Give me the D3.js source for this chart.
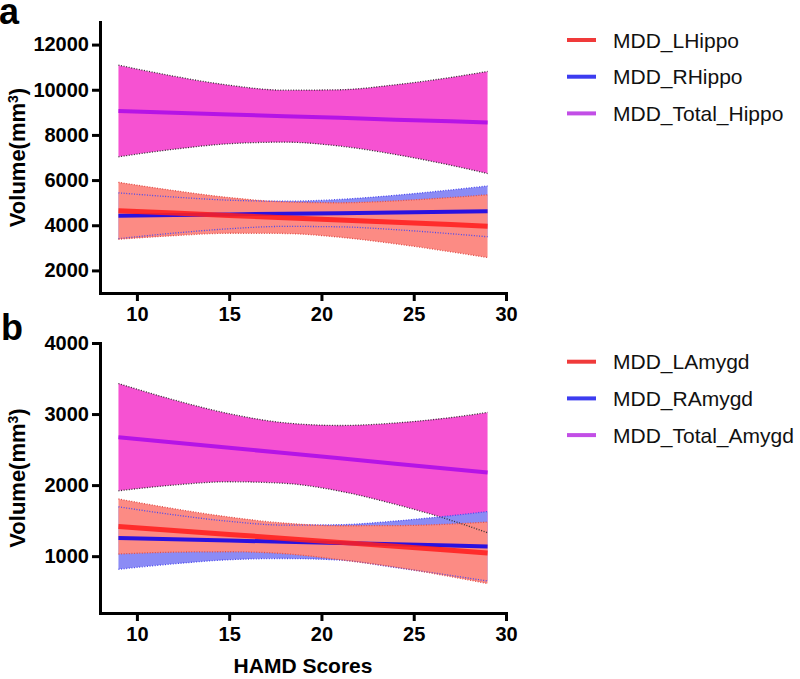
<!DOCTYPE html>
<html>
<head>
<meta charset="utf-8">
<script src="https://cdn.jsdelivr.net/npm/d3@7"></script>
<style>
    body { margin: 0; background: #fff; }
    svg { font-family: "Liberation Sans", Arial, sans-serif; }
</style>
</head>
<body>
<div id="chart"></div>
<script>
var hamd = [9, 12, 15, 18, 21, 24, 27, 29];
var xTicks = [10, 15, 20, 25, 30];

// panel a - hippocampus volumes (mm3)
var hippoNames = ["MDD_LHippo", "MDD_RHippo", "MDD_Total_Hippo"];
var lHippoFit   = [4640, 4540, 4435, 4335, 4230, 4130, 4030, 3960];
var lHippoUpper = [5900, 5535, 5225, 5035, 4995, 5080, 5230, 5350];
var lHippoLower = [3380, 3540, 3645, 3635, 3470, 3180, 2825, 2570];
var rHippoFit   = [4420, 4450, 4480, 4510, 4535, 4565, 4595, 4615];
var rHippoUpper = [5435, 5250, 5110, 5065, 5145, 5325, 5565, 5740];
var rHippoLower = [3405, 3650, 3845, 3950, 3930, 3805, 3625, 3490];
var tHippoFit   = [9060, 8980, 8905, 8830, 8755, 8675, 8600, 8550];
var tHippoUpper = [11090, 10600, 10200, 9980, 10000, 10220, 10545, 10810];
var tHippoLower = [7030, 7365, 7610, 7680, 7505, 7135, 6660, 6290];
var hippoTicks = [2000, 4000, 6000, 8000, 10000, 12000];

// panel b - amygdala volumes (mm3)
var amygdNames = ["MDD_LAmygd", "MDD_RAmygd", "MDD_Total_Amygd"];
var lAmygdFit   = [1418, 1362, 1306, 1250, 1194, 1138, 1082, 1044];
var lAmygdUpper = [1805, 1668, 1550, 1465, 1428, 1430, 1452, 1480];
var lAmygdLower = [1030, 1056, 1062, 1035, 950, 846, 712, 614];
var rAmygdFit   = [1255, 1237, 1220, 1202, 1184, 1167, 1149, 1137];
var rAmygdUpper = [1695, 1582, 1490, 1437, 1443, 1494, 1569, 1628];
var rAmygdLower = [815, 892, 950, 967, 945, 840, 729, 650];
var tAmygdFit   = [2675, 2600, 2526, 2451, 2377, 2302, 2228, 2178];
var tAmygdUpper = [3430, 3199, 3005, 2877, 2839, 2874, 2950, 3023];
var tAmygdLower = [1920, 2001, 2047, 2025, 1915, 1730, 1506, 1330];
var amygdTicks = [1000, 2000, 3000, 4000];

function init() {
    var w = 800;
    var h = 679;
    var left = 100, right = 506;

    var svg = d3.select("#chart")
        .append("svg")
        .attr("width", w)
        .attr("height", h);

    var xScale = d3.scaleLinear()
        .domain([8, 30])
        .range([left, right]);

    // left, right, total : fill, edge, fit line, legend line
    var styles = [
        { fill: "#fc8b84", edge: "#e0504a", line: "#ff1f1f", key: "#f03a3a" },
        { fill: "#8b8bf5", edge: "#4a4aee", line: "#2a12e0", key: "#3c3cf0" },
        { fill: "#f652d2", edge: "#333333", line: "#b514e6", key: "#c24ee6" }
    ];

    function panel(opts) {
        var yScale = d3.scaleLinear()
            .domain(opts.domain)
            .range([opts.bottom, opts.top]);

        var g = svg.append("g");

        var area = d3.area()
            .x(function(d, i) { return xScale(hamd[i]); })
            .y0(function(d) { return yScale(d[0]); })
            .y1(function(d) { return yScale(d[1]); })
            .curve(d3.curveMonotoneX);

        var edge = d3.line()
            .x(function(d, i) { return xScale(hamd[i]); })
            .y(function(d) { return yScale(d); })
            .curve(d3.curveMonotoneX);

        var fit = d3.line()
            .x(function(d, i) { return xScale(hamd[i]); })
            .y(function(d) { return yScale(d); });

        // fills: total first, then right, then left on top
        [2, 1, 0].forEach(function(k) {
            var s = opts.series[k];
            g.append("path")
                .datum(s.lower.map(function(v, i) { return [v, s.upper[i]]; }))
                .attr("d", area)
                .attr("fill", styles[k].fill);
        });

        // dotted band edges
        [2, 1, 0].forEach(function(k) {
            var s = opts.series[k];
            [s.upper, s.lower].forEach(function(arr) {
                g.append("path")
                    .datum(arr)
                    .attr("d", edge)
                    .attr("fill", "none")
                    .attr("stroke", styles[k].edge)
                    .attr("stroke-width", 1.3)
                    .attr("stroke-dasharray", "1,1.6");
            });
        });

        // regression lines
        [2, 1, 0].forEach(function(k) {
            g.append("path")
                .datum(opts.series[k].fit)
                .attr("d", fit)
                .attr("fill", "none")
                .attr("stroke", styles[k].line)
                .attr("stroke-width", k == 0 ? 5 : 4)
                .attr("opacity", k == 0 ? 0.88 : 1);
        });

        // axes
        var yAxis = g.append("g")
            .attr("transform", "translate(" + left + ",0)")
            .call(d3.axisLeft(yScale).tickValues(opts.ticks).tickFormat(d3.format("d"))
                .tickSize(8).tickSizeOuter(0).tickPadding(3));

        var xAxis = g.append("g")
            .attr("transform", "translate(0," + opts.bottom + ")")
            .call(d3.axisBottom(xScale).tickValues(xTicks).tickFormat(d3.format("d"))
                .tickSize(8).tickSizeOuter(0).tickPadding(6));

        [yAxis, xAxis].forEach(function(ax) {
            ax.select(".domain").attr("stroke", "#000").attr("stroke-width", 3).attr("stroke-linecap", "square");
            ax.selectAll(".tick line").attr("stroke", "#000").attr("stroke-width", 3);
            ax.selectAll(".tick text")
                .attr("font-family", "'Liberation Sans', Arial, sans-serif")
                .attr("font-size", "20px")
                .attr("font-weight", "bold")
                .attr("fill", "#000");
        });

        // y label with superscript
        var lab = g.append("text")
            .attr("transform", "translate(25," + ((opts.top + opts.bottom) / 2) + ") rotate(-90)")
            .attr("text-anchor", "middle")
            .attr("font-size", "22px")
            .attr("font-weight", "bold");
        lab.append("tspan").text("Volume(mm");
        lab.append("tspan").attr("font-size", "14px").attr("dy", -7).text("3");
        lab.append("tspan").attr("dy", 7).text(")");

        // panel letter
        g.append("text")
            .attr("x", opts.letterX)
            .attr("y", opts.letterY)
            .attr("font-size", "36px")
            .attr("font-weight", "bold")
            .text(opts.letter);

        // legend
        opts.names.forEach(function(name, k) {
            var ly = opts.legendY + k * 36.7;
            g.append("line")
                .attr("x1", 567).attr("x2", 596)
                .attr("y1", ly).attr("y2", ly)
                .attr("stroke", styles[k].key)
                .attr("stroke-width", 4);
            g.append("text")
                .attr("x", 613)
                .attr("y", ly + 7.5)
                .attr("font-size", "21px")
                .attr("fill", "#111")
                .text(name);
        });
    }

    panel({
        letter: "a", letterX: -1, letterY: 24,
        top: 22, bottom: 293, domain: [1000, 13000], ticks: hippoTicks,
        legendY: 40, names: hippoNames,
        series: [
            { fit: lHippoFit, upper: lHippoUpper, lower: lHippoLower },
            { fit: rHippoFit, upper: rHippoUpper, lower: rHippoLower },
            { fit: tHippoFit, upper: tHippoUpper, lower: tHippoLower }
        ]
    });

    panel({
        letter: "b", letterX: 1, letterY: 340,
        top: 343, bottom: 613, domain: [200, 4000], ticks: amygdTicks,
        legendY: 361.7, names: amygdNames,
        series: [
            { fit: lAmygdFit, upper: lAmygdUpper, lower: lAmygdLower },
            { fit: rAmygdFit, upper: rAmygdUpper, lower: rAmygdLower },
            { fit: tAmygdFit, upper: tAmygdUpper, lower: tAmygdLower }
        ]
    });

    // shared x label
    svg.append("text")
        .attr("x", (left + right) / 2)
        .attr("y", 673)
        .attr("text-anchor", "middle")
        .attr("font-size", "21px")
        .attr("font-weight", "bold")
        .text("HAMD Scores");
}

window.onload = init;
</script>
</body>
</html>
